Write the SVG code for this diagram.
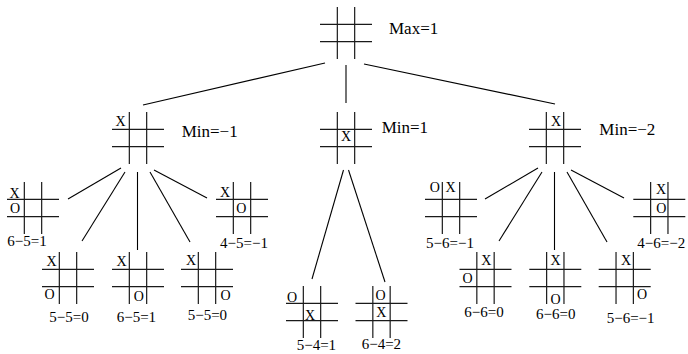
<svg xmlns="http://www.w3.org/2000/svg" xmlns:xlink="http://www.w3.org/1999/xlink" width="688" height="354" viewBox="0 0 688 354" font-family="'Liberation Serif', 'DejaVu Serif', 'Times New Roman', serif">
<style>
text{font-family:'Liberation Serif','DejaVu Serif','Times New Roman',serif;fill:#000}
.m{font-size:14px;text-anchor:middle}
.s{font-size:15px}
.lab{font-size:17px}
</style>
<defs>
<g id="grid" stroke="#1a1a1a" stroke-width="1.2" fill="none">
<line x1="0" y1="17.33" x2="52" y2="17.33"/>
<line x1="0" y1="34.67" x2="52" y2="34.67"/>
<line x1="17.33" y1="0" x2="17.33" y2="52"/>
<line x1="34.67" y1="0" x2="34.67" y2="52"/>
</g>
</defs>
<rect width="688" height="354" fill="#fff"/>
<g id="connectors" stroke="#000" stroke-width="1.1" fill="none">
<line x1="325" y1="63" x2="143" y2="105"/>
<line x1="346" y1="65" x2="346" y2="103"/>
<line x1="364" y1="64" x2="555" y2="104"/>
<line x1="121" y1="168" x2="68" y2="199"/>
<line x1="125" y1="172" x2="82" y2="241"/>
<line x1="137.5" y1="172" x2="137.5" y2="250"/>
<line x1="150" y1="172" x2="190" y2="242"/>
<line x1="154" y1="170" x2="207" y2="198"/>
<line x1="343.5" y1="170" x2="312" y2="279"/>
<line x1="348.5" y1="170" x2="385" y2="282"/>
<line x1="538" y1="168" x2="485" y2="199"/>
<line x1="542" y1="172" x2="499" y2="241"/>
<line x1="554.5" y1="172" x2="554.5" y2="250"/>
<line x1="567" y1="172" x2="607" y2="242"/>
<line x1="571" y1="170" x2="624" y2="198"/>
</g>
<g id="root">
<use xlink:href="#grid" x="320" y="7"/>
<text class="lab" x="389" y="34">Max=1</text>
</g>
<g id="minA">
<use xlink:href="#grid" x="112" y="112"/>
<text class="m" x="120.5" y="125.7">X</text>
<text class="lab" x="181.7" y="137.3">Min=−1</text>
</g>
<g id="minB">
<use xlink:href="#grid" x="320" y="112"/>
<text class="m" x="346" y="140.5">X</text>
<text class="lab" x="381.7" y="133">Min=1</text>
</g>
<g id="minC">
<use xlink:href="#grid" x="529" y="112"/>
<text class="m" x="556" y="125.7">X</text>
<text class="lab" x="599.3" y="135">Min=−2</text>
</g>
<g id="leafL1">
<use xlink:href="#grid" x="7" y="182"/>
<text class="m" x="14.5" y="198">X</text>
<text class="m" x="15" y="213">O</text>
<text class="s" x="7.3" y="246">6−5=1</text>
</g>
<g id="leafL2">
<use xlink:href="#grid" x="42" y="252"/>
<text class="m" x="51.5" y="266">X</text>
<text class="m" x="49.5" y="298.5">O</text>
<text class="s" x="49.3" y="321.7">5−5=0</text>
</g>
<g id="leafL3">
<use xlink:href="#grid" x="112" y="252"/>
<text class="m" x="121.5" y="266">X</text>
<text class="m" x="138.8" y="301">O</text>
<text class="s" x="116.7" y="321.7">6−5=1</text>
</g>
<g id="leafL4">
<use xlink:href="#grid" x="181" y="252"/>
<text class="m" x="191" y="265">X</text>
<text class="m" x="225.5" y="299.5">O</text>
<text class="s" x="187.7" y="320">5−5=0</text>
</g>
<g id="leafL5">
<use xlink:href="#grid" x="216" y="182"/>
<text class="m" x="225" y="197.3">X</text>
<text class="m" x="241.3" y="212.7">O</text>
<text class="s" x="220" y="248.3">4−5=−1</text>
</g>
<g id="leafM1">
<use xlink:href="#grid" x="286" y="286"/>
<text class="m" x="292" y="301.7">O</text>
<text class="m" x="310" y="320">X</text>
<text class="s" x="296.7" y="349.5">5−4=1</text>
</g>
<g id="leafM2">
<use xlink:href="#grid" x="355.5" y="286"/>
<text class="m" x="380.5" y="300">O</text>
<text class="m" x="381.3" y="317.3">X</text>
<text class="s" x="361.7" y="349">6−4=2</text>
</g>
<g id="leafR1">
<use xlink:href="#grid" x="425" y="182"/>
<text class="m" x="434.7" y="191.7">O</text>
<text class="m" x="450.5" y="191.7">X</text>
<text class="s" x="426" y="248.3">5−6=−1</text>
</g>
<g id="leafR2">
<use xlink:href="#grid" x="459.5" y="252"/>
<text class="m" x="486.3" y="265">X</text>
<text class="m" x="467.5" y="283.3">O</text>
<text class="s" x="464.3" y="317.3">6−6=0</text>
</g>
<g id="leafR3">
<use xlink:href="#grid" x="529.3" y="252"/>
<text class="m" x="555.5" y="265">X</text>
<text class="m" x="555.5" y="304">O</text>
<text class="s" x="536" y="319">6−6=0</text>
</g>
<g id="leafR4">
<use xlink:href="#grid" x="598.7" y="252"/>
<text class="m" x="626" y="265">X</text>
<text class="m" x="642" y="299.3">O</text>
<text class="s" x="606.7" y="323.3">5−6=−1</text>
</g>
<g id="leafR5">
<use xlink:href="#grid" x="633.3" y="182"/>
<text class="m" x="661" y="194">X</text>
<text class="m" x="661.3" y="212.7">O</text>
<text class="s" x="637.3" y="248.3">4−6=−2</text>
</g>
</svg>
